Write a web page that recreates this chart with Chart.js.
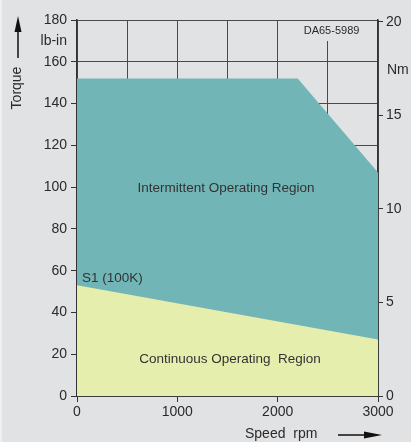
<!DOCTYPE html>
<html>
<head>
<meta charset="utf-8">
<script src="https://cdn.jsdelivr.net/npm/chart.js@4/dist/chart.umd.min.js"></script>
<style>
  html, body { margin: 0; padding: 0; background: #e1e2e4; }
  #wrap { width: 411px; height: 442px; position: relative; }
</style>
</head>
<body>
<div id="wrap"><canvas id="torqueChart" width="411" height="442"></canvas></div>
<script>
// speed (rpm) / torque (lb-in)
const intermittentSpeed = [0, 2200, 3000];
const intermittentTorque = [152, 152, 107];
const continuousSpeed = [0, 3000];
const continuousTorque = [53, 27];
const leftTicks = [0, 20, 40, 60, 80, 100, 120, 140, 160, 180];
const speedTicks = [0, 1000, 2000, 3000];
const nmTicks = [0, 5, 10, 15, 20];
const NM_AXIS_MAX = 20.1; // right scale as printed on the sheet

const toPoints = (xs, ys) => xs.map((x, i) => ({ x: x, y: ys[i] }));
const font = { family: "Liberation Sans, Arial, sans-serif", size: 14 };
const textColor = "#2a2a2a";

// extra labels and arrows round the plot
const annotations = {
  id: "annotations",
  afterDraw(chart) {
    const ctx = chart.ctx;
    const a = chart.chartArea;
    const x = chart.scales.x;
    const y = chart.scales.y;
    ctx.save();
    ctx.fillStyle = "#eeeff0";
    ctx.fillRect(0, 0, 2, chart.height);

    // drawing number, box hides grid behind it
    ctx.fillStyle = "#e1e2e4";
    ctx.fillRect(x.getPixelForValue(2200), a.top + 1, 72, 20);
    ctx.fillStyle = textColor;
    ctx.font = "11px Liberation Sans, Arial, sans-serif";
    ctx.textAlign = "center";
    ctx.textBaseline = "middle";
    ctx.fillText("DA65-5989", x.getPixelForValue(2537), a.top + 11);

    ctx.font = "14px Liberation Sans, Arial, sans-serif";
    ctx.textAlign = "right";
    ctx.fillText("lb-in", 67, (y.getPixelForValue(180) + y.getPixelForValue(160)) / 2);
    ctx.textAlign = "left";
    ctx.fillText("Nm", a.right + 9, y.getPixelForValue(156));

    // Torque arrow
    ctx.strokeStyle = "#111";
    ctx.lineWidth = 1.5;
    ctx.beginPath();
    ctx.moveTo(18, 58);
    ctx.lineTo(18, 30);
    ctx.stroke();
    ctx.fillStyle = "#111";
    ctx.beginPath();
    ctx.moveTo(18, 16);
    ctx.lineTo(14.5, 32);
    ctx.lineTo(21.5, 32);
    ctx.closePath();
    ctx.fill();
    ctx.fillStyle = textColor;
    ctx.save();
    ctx.translate(17, 88);
    ctx.rotate(-Math.PI / 2);
    ctx.textAlign = "center";
    ctx.fillText("Torque", 0, 0);
    ctx.restore();

    // Speed arrow
    ctx.textAlign = "left";
    ctx.fillText("Speed  rpm", 245, 434);
    ctx.beginPath();
    ctx.moveTo(338, 435);
    ctx.lineTo(366, 435);
    ctx.stroke();
    ctx.fillStyle = "#111";
    ctx.beginPath();
    ctx.moveTo(382, 435);
    ctx.lineTo(364, 431.5);
    ctx.lineTo(364, 438.5);
    ctx.closePath();
    ctx.fill();

    // region labels
    ctx.fillStyle = "#333";
    ctx.font = "13.5px Liberation Sans, Arial, sans-serif";
    ctx.textAlign = "center";
    ctx.fillText("Intermittent Operating Region", x.getPixelForValue(1485), y.getPixelForValue(99.6));
    ctx.fillText("Continuous Operating  Region", x.getPixelForValue(1525), y.getPixelForValue(17.7));
    ctx.textAlign = "left";
    ctx.fillText("S1 (100K)", a.left + 5, y.getPixelForValue(56.5));
    ctx.restore();
  }
};

new Chart(document.getElementById("torqueChart"), {
  type: "line",
  data: {
    datasets: [
      {
        label: "Continuous",
        data: toPoints(continuousSpeed, continuousTorque),
        backgroundColor: "#e6eeae",
        borderWidth: 0,
        pointRadius: 0,
        fill: "origin",
        order: 0,
      },
      {
        label: "Intermittent",
        data: toPoints(intermittentSpeed, intermittentTorque),
        backgroundColor: "#72b5b7",
        borderWidth: 0,
        pointRadius: 0,
        fill: "origin",
        order: 1,
      },
    ],
  },
  options: {
    responsive: false,
    animation: false,
    layout: { padding: { top: 20, left: 0, right: 0, bottom: 0 } },
    plugins: { legend: { display: false }, tooltip: { enabled: false } },
    scales: {
      x: {
        type: "linear",
        min: 0,
        max: 3000,
        afterFit: (s) => { s.height = 46; },
        afterBuildTicks: (s) => {
          s.ticks = [0, 500, 1000, 1500, 2000, 2500, 3000].map((v) => ({ value: v }));
        },
        ticks: {
          font: font,
          color: textColor,
          padding: 2,
          maxRotation: 0,
          callback: (v) => (speedTicks.includes(v) ? String(v) : ""),
        },
        grid: {
          color: "#4a4a4a",
          lineWidth: 1,
          tickLength: 6,
          tickColor: (c) => (speedTicks.includes(c.tick.value) ? "#333" : "rgba(0,0,0,0)"),
        },
        border: { color: "#333", width: 1.5 },
      },
      y: {
        position: "left",
        min: 0,
        max: 180,
        afterFit: (s) => { s.width = 77; },
        afterBuildTicks: (s) => { s.ticks = leftTicks.map((v) => ({ value: v })); },
        ticks: { font: font, color: textColor, padding: 4 },
        grid: { color: "#4a4a4a", lineWidth: 1, tickLength: 6, tickColor: "#333" },
        border: { color: "#333", width: 1.5 },
      },
      y2: {
        position: "right",
        min: 0,
        max: NM_AXIS_MAX,
        afterFit: (s) => { s.width = 33; },
        afterBuildTicks: (s) => { s.ticks = nmTicks.map((v) => ({ value: v })); },
        ticks: { font: font, color: textColor, padding: 3 },
        grid: { drawOnChartArea: false, tickLength: 5, tickColor: "#333" },
        border: { color: "#333", width: 1.5 },
      },
    },
  },
  plugins: [annotations],
});
</script>
</body>
</html>
